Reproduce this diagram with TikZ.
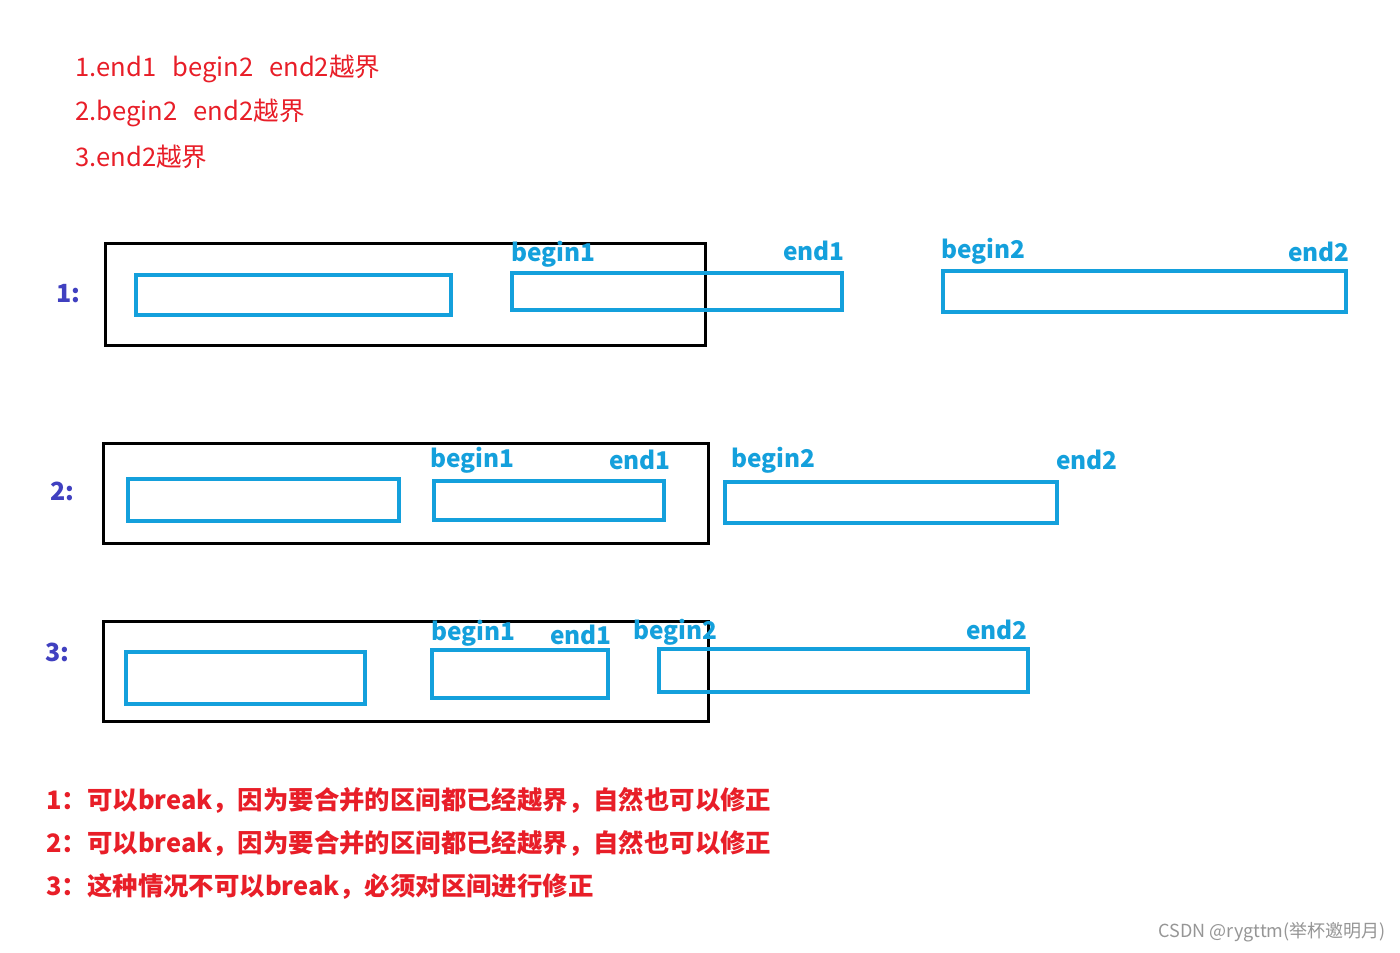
\documentclass[tikz,border=0pt]{standalone}
\usepackage{fontspec}
\setmainfont{Noto Sans CJK SC}
\newfontfamily\cjk{Noto Sans CJK SC}
\definecolor{myred}{RGB}{232,30,40}
\definecolor{myblue}{RGB}{20,160,220}
\definecolor{mypurple}{RGB}{64,64,192}
\definecolor{mygray}{RGB}{150,150,150}
\begin{document}
\begin{tikzpicture}[x=0.5pt,y=-0.5pt,
  frame/.style={draw=black,line width=1.5pt},
  iv/.style={draw=myblue,line width=1.6pt},
  lbl/.style={text=myblue,font=\cjk\bfseries\fontsize{12.2}{14}\selectfont,inner sep=0pt},
  rowno/.style={text=mypurple,font=\cjk\bfseries\fontsize{12.5}{14}\selectfont,inner sep=0pt},
  toptxt/.style={text=myred,font=\cjk\fontsize{12.8}{14}\selectfont,inner sep=0pt,anchor=west},
  bottxt/.style={text=myred,font=\cjk\bfseries\fontsize{12.7}{14}\selectfont,inner sep=0pt,anchor=west}]
\useasboundingbox[fill=white] (0,0) rectangle (1400,952);
% top notes
\node[toptxt] (t1) at (75,69) {1.end1\hspace{8pt}begin2\hspace{8pt}end2越界};
\node[toptxt] (t2) at (75,113) {2.begin2\hspace{8pt}end2越界};
\node[toptxt] (t3) at (75,157) {3.end2越界};
% row 1
\node[rowno] (r1) at (68,294) {1:};
\draw[frame] (105,243) rectangle (705,345);
\draw[iv] (136,275) rectangle (451,315);
\draw[iv] (512,273) rectangle (842,310);
\draw[iv] (943,271) rectangle (1346,312);
\node[lbl,anchor=west] (a1) at (511,254) {begin1};
\node[lbl,anchor=east] (a2) at (845,251) {end1};
\node[lbl,anchor=west] (a3) at (941,251) {begin2};
\node[lbl,anchor=east] (a4) at (1350,252) {end2};
% row 2
\node[rowno] (r2) at (62,491) {2:};
\draw[frame] (103,443) rectangle (708,543);
\draw[iv] (128,479) rectangle (399,521);
\draw[iv] (434,481) rectangle (664,520);
\draw[iv] (725,482) rectangle (1057,523);
\node[lbl,anchor=west] (b1) at (430,460) {begin1};
\node[lbl,anchor=east] (b2) at (671,460) {end1};
\node[lbl,anchor=west] (b3) at (731,460) {begin2};
\node[lbl,anchor=east] (b4) at (1118,460) {end2};
% row 3
\node[rowno] (r3) at (57,652) {3:};
\draw[frame] (103,621) rectangle (708,721);
\draw[iv] (126,652) rectangle (365,704);
\draw[iv] (432,650) rectangle (608,698);
\draw[iv] (659,649) rectangle (1028,692);
\node[lbl,anchor=west] (c1) at (431,633) {begin1};
\node[lbl,anchor=east] (c2) at (612,635) {end1};
\node[lbl,anchor=west] (c3) at (633,632) {begin2};
\node[lbl,anchor=east] (c4) at (1028,630) {end2};
% bottom notes
\node[bottxt] (n1) at (46,800) {1：可以break，因为要合并的区间都已经越界，自然也可以修正};
\node[bottxt] (n2) at (46,843) {2：可以break，因为要合并的区间都已经越界，自然也可以修正};
\node[bottxt] (n3) at (46,886) {3：这种情况不可以break，必须对区间进行修正};
% watermark
\node[text=mygray,font=\cjk\fontsize{9}{10}\selectfont,inner sep=0pt,anchor=east] (wm) at (1386,932) {CSDN @rygttm(举杯邀明月)};
\end{tikzpicture}
\end{document}
